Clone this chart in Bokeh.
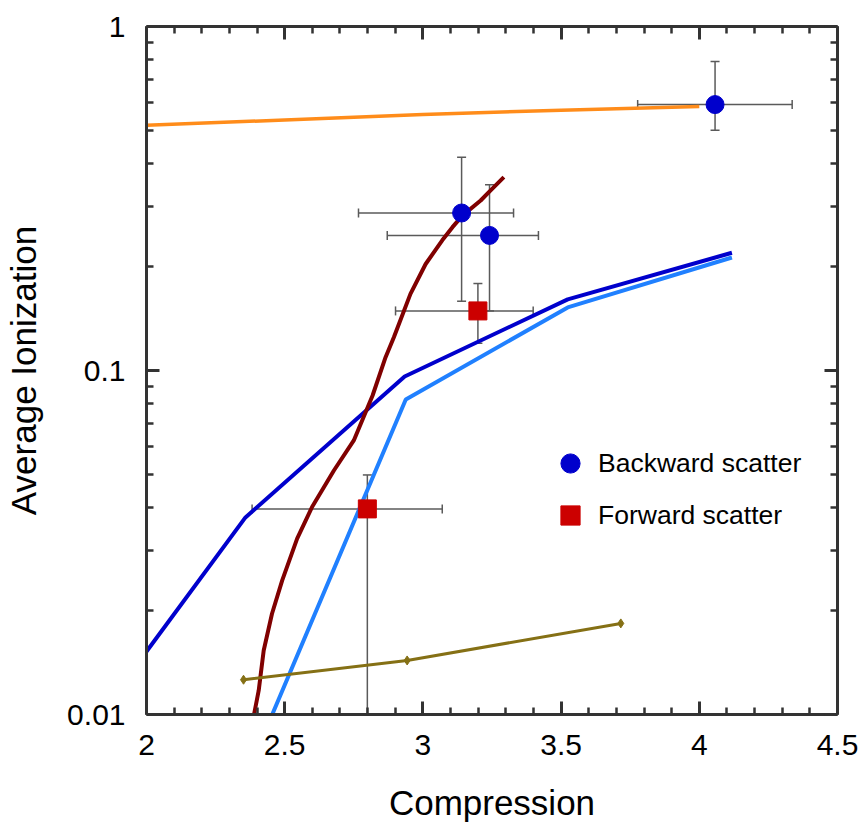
from bokeh.plotting import figure
from bokeh.models import (Range1d, LinearAxis, LogAxis, SingleIntervalTicker, FixedTicker,
                          CustomJSTickFormatter, Whisker, ColumnDataSource, Legend,
                          LegendItem, TeeHead)
from bokeh.embed import file_html
from bokeh.resources import INLINE

# ---------------- data ----------------
orange_x = [2.0, 2.5, 3.0, 3.5, 4.0]
orange_y = [0.516, 0.535, 0.555, 0.571, 0.585]

dblue_x = [2.0, 2.358, 2.934, 3.524, 4.118]
dblue_y = [0.01524, 0.0374, 0.0961, 0.161, 0.220]

lblue_x = [2.358, 2.938, 3.524, 4.118]
lblue_y = [0.00655, 0.0824, 0.1525, 0.213]

maroon_x = [2.388, 2.406, 2.424, 2.454, 2.491, 2.545, 2.599, 2.678, 2.750, 2.818,
            2.865, 2.895, 2.955, 3.010, 3.070, 3.107, 3.143, 3.209, 3.245, 3.293]
maroon_y = [0.0099, 0.01175, 0.01535, 0.01963, 0.02455, 0.03245, 0.0401, 0.0512, 0.0626, 0.0846,
            0.1093, 0.125, 0.167, 0.204, 0.239, 0.261, 0.282, 0.312, 0.334, 0.365]

olive_x = [2.351, 2.943, 3.716]
olive_y = [0.01262, 0.01436, 0.0184]

back_x = [4.057, 3.140, 3.241]
back_y = [0.593, 0.287, 0.247]
back_xlo = [3.777, 2.767, 2.871]
back_xhi = [4.336, 3.328, 3.418]
back_ylo = [0.499, 0.159, 0.149]
back_yhi = [0.791, 0.417, 0.347]

fwd_x = [3.199, 2.799]
fwd_y = [0.149, 0.0396]
fwd_xlo = [2.901, 2.382]
fwd_xhi = [3.399, 3.070]
fwd_ylo = [0.120, 0.005]
fwd_yhi = [0.179, 0.0497]

y_major = [0.01, 0.1, 1]
y_minor = [0.02, 0.03, 0.04, 0.05, 0.06, 0.07, 0.08, 0.09,
           0.2, 0.3, 0.4, 0.5, 0.6, 0.7, 0.8, 0.9]

x_label = "Compression"
y_label = "Average Ionization"
legend_labels = ["Backward scatter", "Forward scatter"]

FONT = "Liberation Sans"
AX = "#333333"
ERR = "#5a5a5a"

p = figure(width=859, height=827, x_range=Range1d(2, 4.5), y_range=Range1d(0.01, 1),
           y_axis_type="log", output_backend="svg", toolbar_location=None,
           min_border_left=146, min_border_right=22, min_border_top=26, min_border_bottom=113,
           x_axis_label=x_label, y_axis_label=y_label)
p.outline_line_color = None
p.xgrid.visible = False
p.ygrid.visible = False

xt = SingleIntervalTicker(interval=0.5, num_minor_ticks=5)
yt = FixedTicker(ticks=y_major, minor_ticks=y_minor)
yfmt = CustomJSTickFormatter(code="return parseFloat(tick.toPrecision(6)).toString();")

def style(ax, labels=True):
    ax.axis_line_color = AX
    ax.axis_line_width = 3
    ax.major_tick_line_color = AX
    ax.major_tick_line_width = 3
    ax.minor_tick_line_color = AX
    ax.minor_tick_line_width = 2.5
    ax.major_tick_in = 13
    ax.major_tick_out = 0
    ax.minor_tick_in = 7
    ax.minor_tick_out = 0
    if labels:
        ax.major_label_text_font = FONT
        ax.major_label_text_font_size = "30px"
        ax.major_label_text_color = "black"
        ax.axis_label_text_font = FONT
        ax.axis_label_text_font_size = "35px"
        ax.axis_label_text_font_style = "normal"
        ax.axis_label_text_color = "black"
    else:
        ax.major_label_text_font_size = "1px"
        ax.major_label_text_color = None
        ax.major_label_standoff = 0

xa = p.xaxis[0]
xa.ticker = xt
style(xa)
xa.major_label_standoff = 20
xa.axis_label_standoff = 25

ya = p.yaxis[0]
ya.ticker = yt
ya.formatter = yfmt
style(ya)
ya.major_label_standoff = 21
ya.axis_label_standoff = 21

top = LinearAxis(ticker=xt)
style(top, labels=False)
p.add_layout(top, "above")
right = LogAxis(ticker=yt)
style(right, labels=False)
p.add_layout(right, "right")

# ---------------- lines ----------------
p.line(orange_x, orange_y, line_color="#ff8c1a", line_width=3.5)
p.line(dblue_x, dblue_y, line_color="#0000cc", line_width=4)
p.line(lblue_x, lblue_y, line_color="#2080ff", line_width=4)
p.line(maroon_x, maroon_y, line_color="#800000", line_width=4)
p.line(olive_x, olive_y, line_color="#857015", line_width=3)
p.scatter(olive_x, olive_y, marker="diamond", size=9, fill_color="#857015", line_color="#857015")

# ---------------- error bars ----------------
bsrc = ColumnDataSource(dict(x=back_x, y=back_y, xlo=back_xlo, xhi=back_xhi, ylo=back_ylo, yhi=back_yhi))
fsrc = ColumnDataSource(dict(x=fwd_x, y=fwd_y, xlo=fwd_xlo, xhi=fwd_xhi, ylo=fwd_ylo, yhi=fwd_yhi))

def head():
    return TeeHead(size=9, line_color=ERR, line_width=1.5)

for src in (bsrc, fsrc):
    p.add_layout(Whisker(source=src, base="y", lower="xlo", upper="xhi", dimension="width",
                         line_color=ERR, line_width=1.5, upper_head=head(), lower_head=head()))
    p.add_layout(Whisker(source=src, base="x", lower="ylo", upper="yhi", dimension="height",
                         line_color=ERR, line_width=1.5, upper_head=head(), lower_head=head()))

rb = p.scatter("x", "y", source=bsrc, marker="circle", size=18, fill_color="#0000cc", line_color="#0000cc")
rf = p.scatter("x", "y", source=fsrc, marker="square", size=18, fill_color="#cc0000", line_color="#cc0000")

legend = Legend(items=[LegendItem(label=legend_labels[0], renderers=[rb]),
                       LegendItem(label=legend_labels[1], renderers=[rf])],
                location=(400, 175), glyph_width=48, glyph_height=48, label_height=48,
                spacing=4, label_standoff=4, padding=0, margin=0,
                border_line_color=None, background_fill_alpha=0,
                label_text_font=FONT, label_text_font_size="26.5px", label_text_color="black")
p.add_layout(legend)

open("out.html", "w").write(file_html(p, INLINE))
